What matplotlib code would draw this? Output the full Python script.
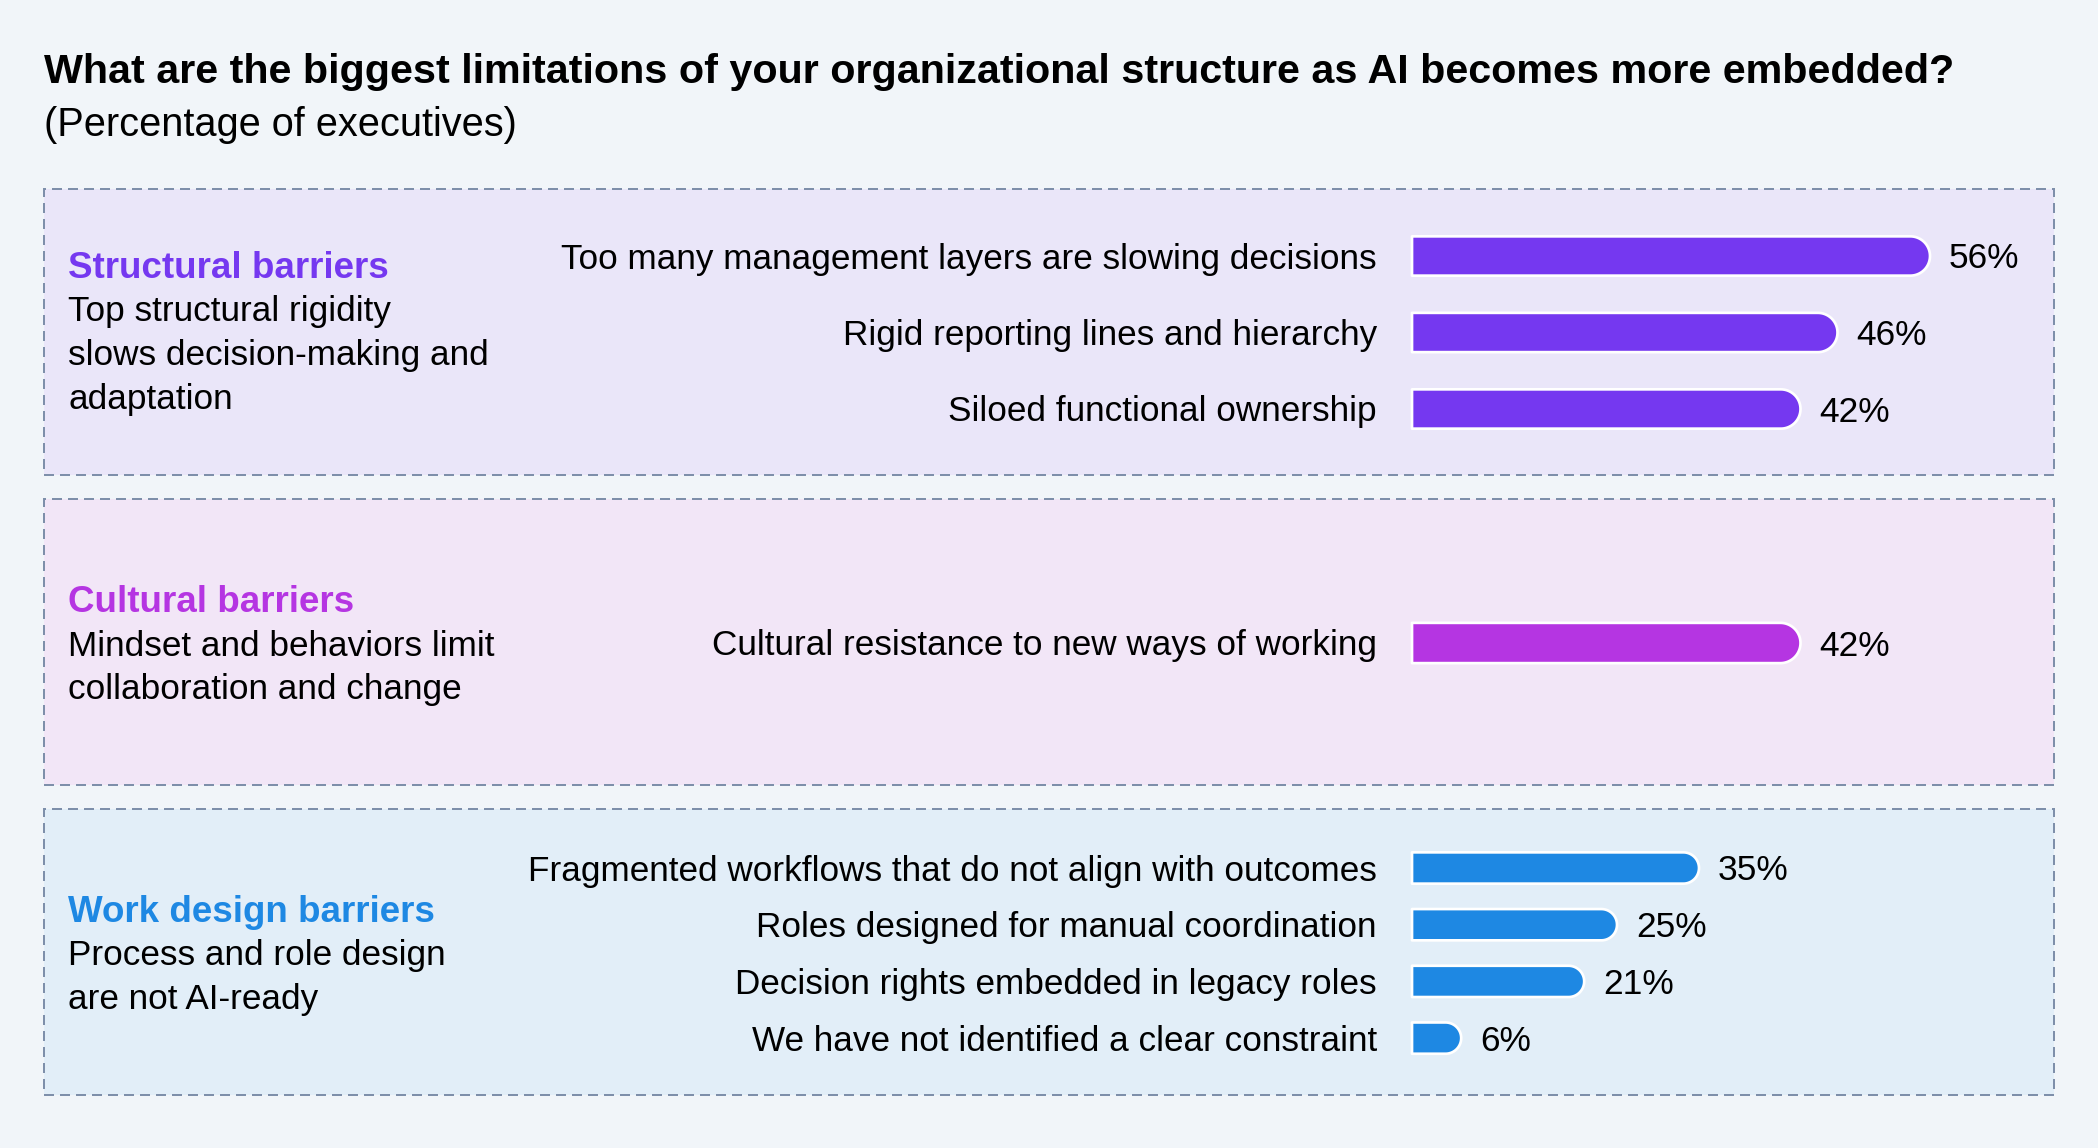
import numpy as np
import matplotlib
matplotlib.use("Agg")
import matplotlib.pyplot as plt
from matplotlib.patches import Rectangle

W, H = 2098, 1148
DPI = 100

TITLE = "What are the biggest limitations of your organizational structure as AI becomes more embedded?"
SUBTITLE = "(Percentage of executives)"

group_names = ["Structural barriers", "Cultural barriers", "Work design barriers"]
group_notes = [
    ["Top structural rigidity", "slows decision-making and", "adaptation"],
    ["Mindset and behaviors limit", "collaboration and change"],
    ["Process and role design", "are not AI-ready"],
]

structural_labels = [
    "Too many management layers are slowing decisions",
    "Rigid reporting lines and hierarchy",
    "Siloed functional ownership",
]
structural_values = [56, 46, 42]

cultural_labels = ["Cultural resistance to new ways of working"]
cultural_values = [42]

work_labels = [
    "Fragmented workflows that do not align with outcomes",
    "Roles designed for manual coordination",
    "Decision rights embedded in legacy roles",
    "We have not identified a clear constraint",
]
work_values = [35, 25, 21, 6]

group_labels = [structural_labels, cultural_labels, work_labels]
group_values = [structural_values, cultural_values, work_values]
group_colors = ["#7538F0", "#B535E2", "#1E88E3"]
panel_fills = ["#EAE6F9", "#F2E6F7", "#E2EEF8"]

# layout in pixels, measured from the top of the picture
panels = [
    dict(top=189, bottom=475, first=256, step=76.5, bar_h=42, px_per=9.25, head=278),
    dict(top=499, bottom=785, first=643, step=76.5, bar_h=43, px_per=9.25, head=612),
    dict(top=809, bottom=1095, first=868, step=56.7, bar_h=34, px_per=8.2, head=922),
]
BAR_X0 = 1412
BAR_W = 620
LINE_STEP = 43.5
PX = 72 / DPI  # points per pixel

plt.rcParams["font.family"] = ["Liberation Sans", "DejaVu Sans"]

fig = plt.figure(figsize=(W / DPI, H / DPI), dpi=DPI)
fig.patch.set_facecolor("#F1F5F9")


def fx(px):
    return px / W


def fy(px):
    return 1 - px / H


fig.text(fx(44), fy(83), TITLE, fontsize=29.7, fontweight="bold", va="baseline", color="black")
fig.text(fx(44), fy(136), SUBTITLE, fontsize=28.6, va="baseline", color="black")


def rounded_bar(ax, y, value, height, color, px_x, px_y):
    ry = height / 2
    rx = min(ry * px_y / px_x, value)
    theta = np.linspace(-np.pi / 2, np.pi / 2, 60)
    xs = np.concatenate([[0], value - rx + rx * np.cos(theta), [0]])
    ys = np.concatenate([[y - ry], y + ry * np.sin(theta), [y + ry]])
    ax.fill(xs, ys, facecolor=color, edgecolor="white", linewidth=2.7 * PX,
            joinstyle="round", clip_on=False)


for k, p in enumerate(panels):
    # panel box
    fig.patches.append(Rectangle(
        (fx(44), fy(p["bottom"])), fx(2054 - 44), (p["bottom"] - p["top"]) / H,
        transform=fig.transFigure, facecolor=panel_fills[k], edgecolor="#7E8FAA",
        linewidth=2 * PX, linestyle=(0, (5.0, 3.0)), zorder=-1))

    # heading and description
    fig.text(fx(68), fy(p["head"]), group_names[k], fontsize=26.5, fontweight="bold",
             color=group_colors[k], va="baseline")
    for j, line in enumerate(group_notes[k]):
        fig.text(fx(68), fy(p["head"] + LINE_STEP * (j + 1)), line, fontsize=25.3,
                 color="black", va="baseline")

    labels = group_labels[k]
    values = group_values[k]
    n = len(values)
    ax_top = p["first"] - p["step"] / 2
    ax_h = n * p["step"]
    ax = fig.add_axes([fx(BAR_X0), fy(ax_top + ax_h), fx(BAR_W), ax_h / H])
    ax.set_xlim(0, BAR_W / p["px_per"])
    ax.set_ylim(n - 0.5, -0.5)
    ax.axis("off")

    bar_h = (p["bar_h"] - 2.7) / p["step"]
    for i, (lab, val) in enumerate(zip(labels, values)):
        rounded_bar(ax, i, val, bar_h, group_colors[k], p["px_per"], p["step"])
        ax.annotate(lab, xy=(0, i), xytext=(-35 * PX, -12.5 * PX), textcoords="offset points",
                    ha="right", va="baseline", fontsize=25.3, color="black",
                    annotation_clip=False)
        ax.annotate(f"{val}%", xy=(val, i), xytext=(19 * PX, -12.5 * PX),
                    textcoords="offset points", ha="left", va="baseline",
                    fontsize=25.5, color="black", annotation_clip=False)

fig.savefig("out.png", dpi=DPI, facecolor=fig.get_facecolor())
